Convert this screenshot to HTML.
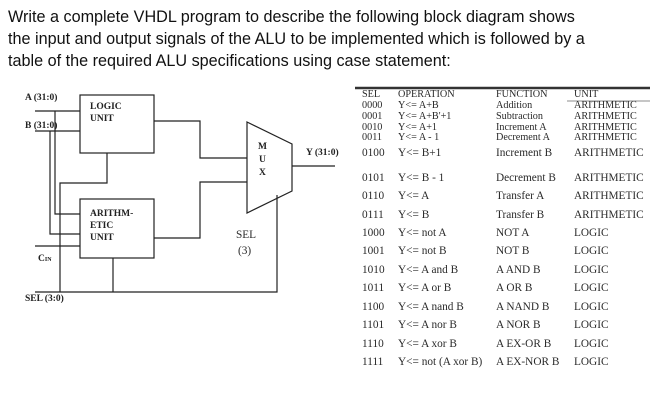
<!DOCTYPE html>
<html><head><meta charset="utf-8"><style>
html,body{margin:0;padding:0;background:#fff;width:671px;height:402px;overflow:hidden}
svg{display:block}
.t{font-family:"Liberation Sans",sans-serif;font-size:16.2px;fill:#111}
.s{font-family:"Liberation Serif",serif;font-size:11.3px;fill:#2a2a2a}
.c{font-size:10.2px}
.b{font-family:"Liberation Serif",serif;font-size:9.5px;font-weight:bold;fill:#222}
</style></head><body>
<svg width="671" height="402" viewBox="0 0 671 402">
<text class="t" x="8" y="22">Write a complete VHDL program to describe the following block diagram shows</text>
<text class="t" x="8" y="44">the input and output signals of the ALU to be implemented which is followed by a</text>
<text class="t" x="8" y="66">table of the required ALU specifications using case statement:</text>
<g stroke="#222" stroke-width="1.2" fill="none">
<rect x="80" y="95" width="74" height="58"/>
<rect x="80" y="199" width="74" height="59"/>
<path d="M35 111H80M35 131H80M55 111V214H80M50 131V234H80M35 246H80"/>
<path d="M107 153V183H60V292M35 292H277V195M113 258V292"/>
<path d="M154 121H200V158H247M154 238H200V182H247"/>
<path d="M247 122L292 144V191L247 213Z"/>
<path d="M292 166H335"/>
</g>
<text class="b" x="25" y="100">A (31:0)</text>
<text class="b" x="25" y="128">B (31:0)</text>
<text class="b" x="90" y="109">LOGIC</text>
<text class="b" x="90" y="121">UNIT</text>
<text class="b" x="90" y="216">ARITHM-</text>
<text class="b" x="90" y="228">ETIC</text>
<text class="b" x="90" y="240">UNIT</text>
<text class="b" x="38" y="261" font-size="8">C<tspan font-size="6">IN</tspan></text>
<text class="b" x="25" y="301">SEL (3:0)</text>
<text class="b" x="258" y="149">M</text>
<text class="b" x="259" y="162">U</text>
<text class="b" x="259" y="175">X</text>
<text class="b" x="306" y="155">Y (31:0)</text>
<text class="s" x="236" y="238" font-size="11" fill="#555">SEL</text>
<text class="s" x="238" y="254" font-size="10" fill="#555">(3)</text>
<line x1="355" y1="88" x2="650" y2="88" stroke="#333" stroke-width="2.5"/>
<line x1="567" y1="101" x2="650" y2="101" stroke="#666" stroke-width="0.8"/>
<g class="s">
<g class="c">
<text x="362" y="97">SEL</text><text x="398" y="97">OPERATION</text><text x="496" y="97">FUNCTION</text><text x="574" y="97">UNIT</text>
<text x="362" y="108">0000</text><text x="398" y="108">Y&lt;= A+B</text><text x="496" y="108">Addition</text><text x="574" y="108">ARITHMETIC</text>
<text x="362" y="119">0001</text><text x="398" y="119">Y&lt;= A+B'+1</text><text x="496" y="119">Subtraction</text><text x="574" y="119">ARITHMETIC</text>
<text x="362" y="130">0010</text><text x="398" y="130">Y&lt;= A+1</text><text x="496" y="130">Increment A</text><text x="574" y="130">ARITHMETIC</text>
<text x="362" y="140">0011</text><text x="398" y="140">Y&lt;= A - 1</text><text x="496" y="140">Decrement A</text><text x="574" y="140">ARITHMETIC</text>
</g>
<text x="362" y="156">0100</text><text x="398" y="156">Y&lt;= B+1</text><text x="496" y="156">Increment B</text><text x="574" y="156">ARITHMETIC</text>
<text x="362" y="181">0101</text><text x="398" y="181">Y&lt;= B - 1</text><text x="496" y="181">Decrement B</text><text x="574" y="181">ARITHMETIC</text>
<text x="362" y="199">0110</text><text x="398" y="199">Y&lt;= A</text><text x="496" y="199">Transfer A</text><text x="574" y="199">ARITHMETIC</text>
<text x="362" y="218">0111</text><text x="398" y="218">Y&lt;= B</text><text x="496" y="218">Transfer B</text><text x="574" y="218">ARITHMETIC</text>
<text x="362" y="236">1000</text><text x="398" y="236">Y&lt;= not A</text><text x="496" y="236">NOT  A</text><text x="574" y="236">LOGIC</text>
<text x="362" y="254">1001</text><text x="398" y="254">Y&lt;= not B</text><text x="496" y="254">NOT B</text><text x="574" y="254">LOGIC</text>
<text x="362" y="273">1010</text><text x="398" y="273">Y&lt;= A and B</text><text x="496" y="273">A AND B</text><text x="574" y="273">LOGIC</text>
<text x="362" y="291">1011</text><text x="398" y="291">Y&lt;= A or B</text><text x="496" y="291">A OR B</text><text x="574" y="291">LOGIC</text>
<text x="362" y="310">1100</text><text x="398" y="310">Y&lt;= A nand B</text><text x="496" y="310">A NAND B</text><text x="574" y="310">LOGIC</text>
<text x="362" y="328">1101</text><text x="398" y="328">Y&lt;= A nor B</text><text x="496" y="328">A NOR B</text><text x="574" y="328">LOGIC</text>
<text x="362" y="347">1110</text><text x="398" y="347">Y&lt;= A xor B</text><text x="496" y="347">A EX-OR B</text><text x="574" y="347">LOGIC</text>
<text x="362" y="365">1111</text><text x="398" y="365">Y&lt;= not (A xor B)</text><text x="496" y="365">A EX-NOR B</text><text x="574" y="365">LOGIC</text>
</g>
</svg>
</body></html>
